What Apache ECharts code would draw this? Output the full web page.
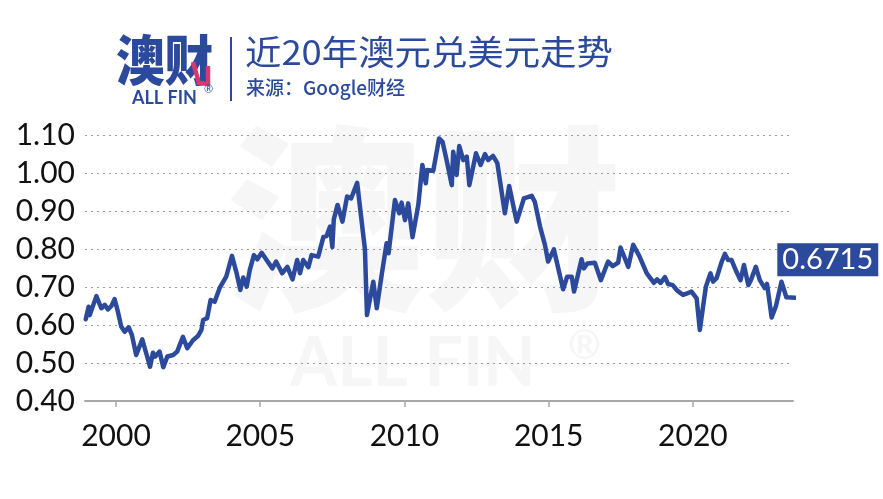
<!DOCTYPE html>
<html>
<head>
<meta charset="utf-8">
<script src="https://cdn.jsdelivr.net/npm/echarts@6/dist/echarts.min.js"></script>
<style>
html,body{margin:0;padding:0;background:#fff;}
#main{width:883px;height:499px;}
</style>
</head>
<body>
<div id="main"></div>
<script>
// ---- data ----
var years = [1998.95,1999.05,1999.09,1999.32,1999.49,1999.61,1999.72,1999.84,1999.95,2000.05,
2000.18,2000.30,2000.44,2000.55,2000.70,2000.91,2001.05,2001.18,2001.28,2001.36,
2001.51,2001.64,2001.78,2001.98,2002.12,2002.32,2002.47,2002.67,2002.84,2002.96,
2003.02,2003.16,2003.28,2003.42,2003.59,2003.82,2004.02,2004.17,2004.31,2004.41,
2004.53,2004.64,2004.78,2004.90,2005.05,2005.22,2005.42,2005.55,2005.76,2005.94,
2006.12,2006.28,2006.38,2006.49,2006.67,2006.78,2007.01,2007.19,2007.30,2007.42,
2007.50,2007.55,2007.68,2007.85,2008.01,2008.15,2008.36,2008.63,2008.70,2008.92,
2009.04,2009.21,2009.38,2009.45,2009.67,2009.82,2009.90,2010.02,2010.13,2010.28,
2010.48,2010.62,2010.74,2010.79,2011.00,2011.20,2011.32,2011.46,2011.64,2011.69,
2011.81,2011.90,2012.04,2012.16,2012.25,2012.48,2012.64,2012.79,2012.90,2013.07,
2013.22,2013.48,2013.63,2013.89,2014.14,2014.41,2014.52,2014.70,2014.87,2014.98,
2015.18,2015.50,2015.64,2015.80,2015.88,2016.14,2016.22,2016.34,2016.60,2016.81,
2017.06,2017.22,2017.41,2017.49,2017.76,2017.93,2018.14,2018.40,2018.65,2018.76,
2018.88,2019.03,2019.14,2019.30,2019.44,2019.55,2019.66,2019.80,2019.95,2020.13,
2020.24,2020.36,2020.45,2020.61,2020.70,2020.82,2021.00,2021.11,2021.22,2021.34,
2021.51,2021.65,2021.77,2021.92,2022.01,2022.18,2022.32,2022.49,2022.57,2022.73,
2022.88,2023.07,2023.24,2023.55];
var rates = [0.615,0.648,0.626,0.676,0.644,0.653,0.641,0.650,0.668,0.640,
0.596,0.582,0.594,0.574,0.521,0.562,0.525,0.490,0.527,0.517,
0.530,0.489,0.517,0.521,0.530,0.569,0.539,0.560,0.571,0.587,
0.613,0.618,0.666,0.661,0.697,0.727,0.782,0.740,0.692,0.725,
0.701,0.745,0.784,0.773,0.790,0.771,0.749,0.767,0.736,0.753,
0.720,0.771,0.736,0.771,0.752,0.784,0.780,0.832,0.834,0.859,
0.805,0.878,0.916,0.872,0.938,0.933,0.974,0.799,0.626,0.714,
0.644,0.732,0.815,0.789,0.929,0.894,0.922,0.876,0.920,0.831,
0.916,1.021,0.973,1.008,1.006,1.091,1.082,1.034,0.968,1.056,
0.995,1.071,1.034,1.043,0.968,1.052,1.021,1.050,1.034,1.045,
1.026,0.894,0.966,0.872,0.933,0.940,0.924,0.859,0.811,0.767,
0.799,0.694,0.727,0.727,0.688,0.773,0.749,0.762,0.764,0.718,
0.767,0.755,0.764,0.804,0.753,0.811,0.782,0.736,0.711,0.720,
0.711,0.726,0.708,0.705,0.692,0.685,0.679,0.683,0.688,0.670,
0.587,0.653,0.701,0.736,0.714,0.723,0.767,0.787,0.771,0.771,
0.740,0.718,0.758,0.705,0.718,0.753,0.718,0.697,0.708,0.620,
0.650,0.714,0.673,0.6715];
var yearTicks = [2000, 2005, 2010, 2015, 2020];
var lastLabel = '0.6715';
var titleText = '近20年澳元兑美元走势';
var sourceText = '来源：Google财经';

var BLUE = '#2c4a9c';
var chart = echarts.init(document.getElementById('main'), null, {renderer:'canvas'});
var seriesData = years.map(function(y, i){ return [y, rates[i]]; });
var numFont = 'Lato, "Liberation Sans", sans-serif';
var cjkFont = '"Noto Sans CJK SC", "Noto Sans", sans-serif';

chart.setOption({
  animation: false,
  backgroundColor: '#ffffff',
  grid: { left: 85, right: 90, top: 135, bottom: 98, containLabel: false },
  xAxis: {
    type: 'value',
    min: 1998.925, max: 2023.47,
    axisLine: { show: true, lineStyle: { color: '#a8a8a8', width: 2 } },
    axisTick: { show: true, length: 6, lineStyle: { color: '#a8a8a8', width: 1.5 }, customValues: yearTicks },
    axisLabel: { customValues: yearTicks, color: '#111', fontSize: 30, fontFamily: numFont, margin: 20,
      formatter: function(v){ return String(Math.round(v)); } },
    splitLine: { show: false }
  },
  yAxis: {
    type: 'value',
    min: 0.4, max: 1.1, interval: 0.1,
    axisLine: { show: false },
    axisTick: { show: false },
    axisLabel: { color: '#111', fontSize: 30, fontFamily: numFont, margin: 10,
      formatter: function(v){ return v.toFixed(2); } },
    splitLine: { show: true, lineStyle: { color: '#9a9a9a', type: [2, 4], width: 1.2 } }
  },
  series: [{
    type: 'line',
    data: seriesData,
    showSymbol: false,
    clip: false,
    z: 5,
    lineStyle: { color: BLUE, width: 4.5, join: 'round', cap: 'round' },
    endLabel: {
      show: true,
      formatter: function(){ return lastLabel; },
      color: '#fff',
      backgroundColor: BLUE,
      fontFamily: numFont,
      fontSize: 29,
      padding: [3, 5, 1, 5],
      distance: 0,
      align: 'left',
      verticalAlign: 'middle',
      offset: [-18, -38]
    }
  }],
  graphic: [
    // background watermark
    { type: 'text', z: -10, left: 226, top: 120, style: { text: '澳财', fill: '#f6f6f6', font: '900 198px ' + cjkFont } },
    { type: 'text', z: -10, left: 290, top: 330, style: { text: 'ALL FIN', fill: '#f6f6f6', font: 'bold 68px ' + numFont } },
    { type: 'text', z: -10, left: 568, top: 326, style: { text: '®', fill: '#f6f6f6', font: 'bold 40px ' + numFont } },
    // logo
    { type: 'text', left: 116, top: 33, scaleX: 0.9, originX: 116, originY: 33,
      style: { text: '澳财', fill: BLUE, font: '900 54px ' + cjkFont } },
    { type: 'polyline', shape: { points: [[193, 62], [199, 83], [208, 84], [208, 66]] },
      style: { stroke: '#d9386f', lineWidth: 4.5, fill: null, lineJoin: 'miter' } },
    { type: 'text', left: 132, top: 89, style: { text: 'ALL FIN', fill: BLUE, font: 'bold 18px ' + numFont } },
    { type: 'text', left: 204, top: 84, style: { text: '®', fill: BLUE, font: '11px ' + numFont } },
    // divider
    { type: 'line', shape: { x1: 231, y1: 37, x2: 231, y2: 101 }, style: { stroke: BLUE, lineWidth: 2 } },
    // title & source
    { type: 'text', left: 245, top: 35, scaleX: 1.07, originX: 245, originY: 35,
      style: { text: titleText, fill: BLUE, font: '400 34px ' + cjkFont } },
    { type: 'text', left: 246, top: 78, style: { text: sourceText, fill: BLUE, font: '500 19px ' + cjkFont } }
  ]
});
</script>
</body>
</html>
